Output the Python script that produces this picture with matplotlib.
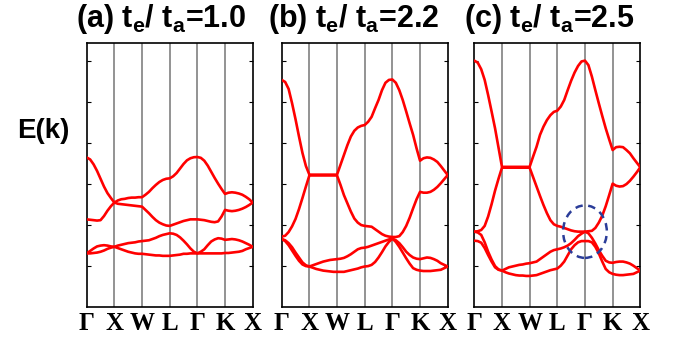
import numpy as np
import matplotlib
matplotlib.use("Agg")
import matplotlib.pyplot as plt
from matplotlib.patches import Ellipse

plt.rcParams['mathtext.fontset'] = 'custom'
plt.rcParams['mathtext.bf'] = 'Liberation Sans:bold'
plt.rcParams['mathtext.rm'] = 'Liberation Sans:bold'
plt.rcParams['mathtext.default'] = 'bf'

# k-path labels (equally spaced high-symmetry points)
k_labels = ['Γ', 'X', 'W', 'L', 'Γ', 'K', 'X']
titles = [r'(a) t$_{e}$/ t$_{a}$=1.0', r'(b) t$_{e}$/ t$_{a}$=2.2', r'(c) t$_{e}$/ t$_{a}$=2.5']

# Energies read at 1/8 steps along Γ-X-W-L-Γ-K-X (49 samples per band)
band4_a = [3.64, 3.59, 3.47, 3.31, 3.12, 2.93, 2.77, 2.65, 2.54,
           2.59, 2.62, 2.63, 2.65, 2.66, 2.66, 2.67, 2.67,
           2.73, 2.80, 2.89, 2.97, 3.04, 3.09, 3.12, 3.13,
           3.18, 3.26, 3.37, 3.48, 3.57, 3.62, 3.645, 3.65,
           3.63, 3.56, 3.44, 3.29, 3.14, 3.00, 2.87, 2.75,
           2.78, 2.79, 2.78, 2.76, 2.73, 2.68, 2.62, 2.54]
band3_a = [2.13, 2.12, 2.11, 2.10, 2.11, 2.21, 2.34, 2.45, 2.54,
           2.51, 2.50, 2.49, 2.48, 2.47, 2.46, 2.45, 2.44,
           2.36, 2.28, 2.19, 2.11, 2.05, 2.01, 1.98, 1.97,
           2.00, 2.03, 2.06, 2.09, 2.11, 2.13, 2.13, 2.13,
           2.12, 2.11, 2.09, 2.07, 2.06, 2.08, 2.20, 2.36,
           2.34, 2.33, 2.34, 2.36, 2.39, 2.43, 2.48, 2.54]
band2_a = [1.30, 1.36, 1.42, 1.47, 1.49, 1.50, 1.49, 1.47, 1.46,
           1.49, 1.51, 1.53, 1.55, 1.56, 1.57, 1.59, 1.60,
           1.61, 1.62, 1.65, 1.68, 1.72, 1.75, 1.77, 1.79,
           1.78, 1.75, 1.69, 1.61, 1.52, 1.42, 1.34, 1.30,
           1.34, 1.40, 1.50, 1.59, 1.64, 1.67, 1.66, 1.63,
           1.64, 1.65, 1.64, 1.62, 1.59, 1.55, 1.51, 1.46]
band1_a = [1.30, 1.30, 1.31, 1.32, 1.34, 1.37, 1.41, 1.44, 1.46,
           1.43, 1.40, 1.37, 1.34, 1.32, 1.30, 1.29, 1.29,
           1.28, 1.27, 1.26, 1.25, 1.25, 1.24, 1.24, 1.24,
           1.25, 1.26, 1.27, 1.29, 1.29, 1.30, 1.30, 1.30,
           1.30, 1.30, 1.30, 1.30, 1.30, 1.30, 1.30, 1.31,
           1.31, 1.32, 1.33, 1.34, 1.36, 1.40, 1.43, 1.46]

band4_b = [5.53, 5.48, 5.31, 4.96, 4.57, 4.15, 3.75, 3.43, 3.22,
           3.22, 3.22, 3.22, 3.22, 3.22, 3.22, 3.22, 3.22,
           3.46, 3.70, 3.94, 4.15, 4.29, 4.37, 4.41, 4.43,
           4.51, 4.63, 4.84, 5.04, 5.28, 5.46, 5.53, 5.54,
           5.46, 5.28, 5.04, 4.76, 4.47, 4.19, 3.86, 3.56,
           3.62, 3.64, 3.63, 3.59, 3.53, 3.43, 3.32, 3.21]
band3_b = [1.71, 1.73, 1.82, 1.96, 2.14, 2.38, 2.65, 2.93, 3.20,
           3.20, 3.20, 3.20, 3.20, 3.20, 3.20, 3.20, 3.20,
           2.97, 2.72, 2.52, 2.32, 2.15, 2.05, 1.99, 1.97,
           1.96, 1.95, 1.89, 1.83, 1.77, 1.73, 1.71, 1.70,
           1.70, 1.72, 1.82, 1.97, 2.17, 2.40, 2.62, 2.80,
           2.78, 2.78, 2.80, 2.85, 2.92, 3.01, 3.11, 3.21]
band2_b = [1.65, 1.62, 1.55, 1.45, 1.32, 1.20, 1.08, 1.01, 0.98,
           1.01, 1.04, 1.07, 1.10, 1.12, 1.14, 1.15, 1.16,
           1.17, 1.19, 1.23, 1.28, 1.34, 1.40, 1.43, 1.44,
           1.46, 1.49, 1.52, 1.55, 1.58, 1.61, 1.64, 1.66,
           1.62, 1.55, 1.45, 1.34, 1.26, 1.20, 1.17, 1.16,
           1.18, 1.20, 1.19, 1.16, 1.12, 1.06, 1.02, 0.98]
band1_b = [1.65, 1.60, 1.50, 1.37, 1.24, 1.12, 1.03, 0.99, 0.98,
           0.95, 0.92, 0.90, 0.88, 0.87, 0.86, 0.85, 0.85,
           0.85, 0.85, 0.87, 0.89, 0.91, 0.93, 0.96, 0.98,
           0.99, 1.02, 1.09, 1.20, 1.33, 1.47, 1.58, 1.66,
           1.58, 1.46, 1.32, 1.18, 1.05, 0.94, 0.90, 0.88,
           0.87, 0.87, 0.87, 0.88, 0.89, 0.90, 0.94, 0.98]

band4_c = [6.00, 5.95, 5.79, 5.53, 5.16, 4.76, 4.35, 3.88, 3.41,
           3.41, 3.41, 3.41, 3.41, 3.41, 3.41, 3.41, 3.41,
           3.66, 3.90, 4.19, 4.39, 4.55, 4.67, 4.75, 4.78,
           4.88, 5.04, 5.28, 5.51, 5.71, 5.87, 5.98, 6.00,
           5.89, 5.61, 5.28, 4.96, 4.65, 4.35, 4.08, 3.82,
           3.89, 3.90, 3.89, 3.82, 3.74, 3.62, 3.51, 3.40]
band3_c = [1.83, 1.84, 1.87, 1.97, 2.20, 2.50, 2.83, 3.12, 3.39,
           3.39, 3.39, 3.39, 3.39, 3.39, 3.39, 3.39, 3.39,
           3.16, 2.93, 2.70, 2.48, 2.28, 2.11, 2.01, 1.97,
           1.95, 1.92, 1.89, 1.86, 1.84, 1.83, 1.83, 1.83,
           1.84, 1.85, 1.92, 2.05, 2.22, 2.45, 2.72, 3.00,
           2.95, 2.93, 2.94, 2.99, 3.07, 3.17, 3.28, 3.40]
band2_c = [1.83, 1.81, 1.75, 1.57, 1.34, 1.15, 0.99, 0.91, 0.88,
           0.92, 0.96, 0.98, 1.00, 1.02, 1.03, 1.05, 1.06,
           1.08, 1.10, 1.16, 1.22, 1.28, 1.34, 1.38, 1.40,
           1.42, 1.45, 1.49, 1.55, 1.63, 1.72, 1.78, 1.83,
           1.79, 1.68, 1.54, 1.38, 1.24, 1.12, 1.08, 1.07,
           1.09, 1.10, 1.10, 1.08, 1.05, 1.00, 0.94, 0.88]
band1_c = [1.61, 1.60, 1.56, 1.43, 1.26, 1.10, 0.96, 0.90, 0.88,
           0.84, 0.81, 0.79, 0.77, 0.76, 0.76, 0.75, 0.75,
           0.76, 0.77, 0.80, 0.83, 0.86, 0.89, 0.91, 0.93,
           1.00, 1.10, 1.25, 1.40, 1.50, 1.57, 1.60, 1.60,
           1.60, 1.57, 1.46, 1.30, 1.10, 0.92, 0.84, 0.80,
           0.78, 0.77, 0.77, 0.78, 0.79, 0.80, 0.84, 0.88]

panels = [
    [band1_a, band2_a, band3_a, band4_a],
    [band1_b, band2_b, band3_b, band4_b],
    [band1_c, band2_c, band3_c, band4_c],
]

# circled crossing region in panel (c): centre (k, E) and extent
circle_center = (4.0, 1.83)
circle_size = (1.58, 1.28)

W, H = 676, 346
fig = plt.figure(figsize=(W / 100, H / 100), dpi=100)

lefts = [86.7, 281.7, 474.3]
ax_w, ax_top, ax_bot = 166.0, 43.0, 306.7
title_x = [76, 268, 464]

kpos = np.arange(len(k_labels))
kgrid = np.linspace(0, len(k_labels) - 1, len(band1_a))

for i, bands in enumerate(panels):
    ax = fig.add_axes([lefts[i] / W, 1 - ax_bot / H, ax_w / W, (ax_bot - ax_top) / H])
    for xv in kpos[1:-1]:
        ax.axvline(xv, color='#8a8a8a', lw=1.3, zorder=1)
    for b in bands:
        ax.plot(kgrid, b, color='#ff0000', lw=1.9, zorder=3,
                solid_capstyle='round', solid_joinstyle='round')
    ax.set_xlim(0, 6)
    ax.set_ylim(0, 6.43)
    ax.set_yticks([1, 2, 3, 4, 5, 6])
    ax.set_yticklabels([])
    ax.tick_params(axis='y', direction='in', length=3, width=0.8, left=True, right=True)
    ax.set_xticks(kpos)
    ax.set_xticklabels(k_labels, family=['Liberation Serif', 'DejaVu Serif'],
                       fontweight='bold', fontsize=18)
    ax.tick_params(axis='x', length=0, pad=4)
    for s in ax.spines.values():
        s.set_linewidth(1.2)
        s.set_color('black')
    fig.text(title_x[i] / W, 1 - 27 / H, titles[i], fontsize=22, fontweight='bold',
             family='Liberation Sans', ha='left', va='baseline')
    if i == 2:
        ell = Ellipse(circle_center, circle_size[0], circle_size[1], fill=False,
                      edgecolor='#2b3d99', lw=1.8, ls=(0, (3, 2.2)), zorder=4)
        ax.add_patch(ell)

fig.text(43 / W, 1 - 131 / H, 'E(k)', fontsize=20, fontweight='bold', family='Liberation Sans',
         ha='center', va='center')

fig.savefig('out.png', dpi=100)
